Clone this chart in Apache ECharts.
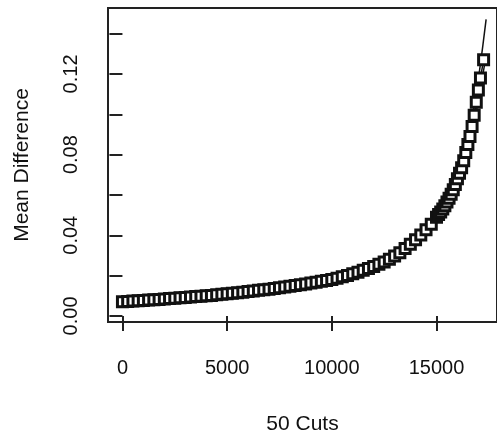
<!DOCTYPE html>
<html>
<head>
<meta charset="utf-8">
<script src="https://cdn.jsdelivr.net/npm/echarts@6/dist/echarts.min.js"></script>
<style>
  html, body { margin: 0; padding: 0; background: #fff; }
  #chart { width: 497px; height: 441px; }
</style>
</head>
<body>
<div id="chart"></div>
<script>
// cut positions and mean differences
var cutX = [0, 250, 500, 750, 1000, 1250, 1500, 1750, 2000, 2250, 2500, 2750, 3000, 3250, 3500,
  3750, 4000, 4250, 4500, 4750, 5000, 5250, 5500, 5750, 6000, 6250, 6500, 6750, 7000, 7250,
  7500, 7750, 8000, 8250, 8500, 8750, 9000, 9250, 9500, 9750, 10000, 10250, 10500, 10750,
  11000, 11250, 11500, 11750, 12000, 12250, 12500, 12750, 13000, 13250, 13500, 13750, 14000,
  14250, 14500, 14750, 15000, 15100, 15200, 15300, 15400, 15500, 15600, 15700, 15800, 15900,
  16000, 16100, 16200, 16300, 16400, 16500, 16600, 16700, 16800, 16900, 17000, 17100, 17250]
var meanY = [0.0071, 0.0072, 0.0074, 0.0075, 0.0077, 0.0079, 0.0080, 0.0082, 0.0084, 0.0086,
  0.0088, 0.0090, 0.0092, 0.0094, 0.0096, 0.0098, 0.0100, 0.0102, 0.0105, 0.0107, 0.0110,
  0.0112, 0.0115, 0.0118, 0.0121, 0.0124, 0.0127, 0.0130, 0.0133, 0.0136, 0.0140, 0.0143,
  0.0147, 0.0151, 0.0155, 0.0159, 0.0163, 0.0167, 0.0172, 0.0176, 0.0181, 0.0187, 0.0194,
  0.0201, 0.0209, 0.0217, 0.0226, 0.0235, 0.0245, 0.0256, 0.0268, 0.0281, 0.0297, 0.0314,
  0.0334, 0.0356, 0.0378, 0.0402, 0.0428, 0.0455, 0.0490, 0.0503, 0.0516, 0.0530, 0.0547,
  0.0565, 0.0584, 0.0604, 0.0626, 0.0652, 0.0680, 0.0707, 0.0735, 0.0770, 0.0810, 0.0850,
  0.0890, 0.0940, 0.0995, 0.1060, 0.1120, 0.1180, 0.1270]

// upper / lower curves of the band
var bandX = [0, 3000, 6000, 9000, 12000, 13000, 14000, 15000, 15500, 16000, 16400, 16800, 17100, 17370]
var upperY = [0.0076, 0.0096, 0.0126, 0.0167, 0.0252, 0.0305, 0.0395, 0.0520, 0.0600, 0.0715, 0.0840, 0.1040, 0.1250, 0.1471]
var lowerY = [0.0066, 0.0089, 0.0118, 0.0159, 0.0238, 0.0288, 0.0368, 0.0482, 0.0553, 0.0658, 0.0778, 0.0958, 0.1130, 0.1290]

var xTicks = [0, 5000, 10000, 15000]
var yTicks = [0, 0.02, 0.04, 0.06, 0.08, 0.10, 0.12, 0.14]
var yLabels = [0, 0.04, 0.08, 0.12]

function pairs(xs, ys) {
  return xs.map(function (x, i) { return [x, ys[i]] })
}

var font = 'Liberation Sans'
var chart = echarts.init(document.getElementById('chart'))
var lineStyle = { color: '#111', width: 1.5 }

chart.setOption({
  animation: false,
  grid: {
    left: 108, top: 8, right: -3, bottom: 119,
    show: true, borderColor: '#222', borderWidth: 2, backgroundColor: '#fff'
  },
  xAxis: {
    type: 'value', min: -690, max: 17890,
    name: '50 Cuts', nameLocation: 'middle', nameGap: 92,
    nameTextStyle: { fontFamily: font, fontSize: 21, color: '#111' },
    axisLine: { show: false },
    splitLine: { show: false },
    axisTick: { show: true, length: 15, customValues: xTicks, lineStyle: { color: '#222', width: 2 } },
    axisLabel: {
      customValues: xTicks, margin: 36, fontFamily: font, fontSize: 20, color: '#111',
      formatter: function (v) { return String(v) }
    }
  },
  yAxis: {
    type: 'value', min: -0.003, max: 0.1527,
    name: 'Mean Difference', nameLocation: 'middle', nameGap: 75,
    nameTextStyle: { fontFamily: font, fontSize: 21, color: '#111' },
    axisLine: { show: false },
    splitLine: { show: false },
    axisTick: { show: true, length: 13, customValues: yTicks, lineStyle: { color: '#222', width: 2 } },
    axisLabel: {
      customValues: yLabels, rotate: 90, margin: 27,
      fontFamily: font, fontSize: 20, color: '#111',
      formatter: function (v) { return v.toFixed(2) }
    }
  },
  series: [
    { type: 'line', data: pairs(bandX, upperY), showSymbol: false, smooth: 0.3, lineStyle: lineStyle, z: 2 },
    { type: 'line', data: pairs(bandX, lowerY), showSymbol: false, smooth: 0.3, lineStyle: lineStyle, z: 2 },
    { type: 'line', data: pairs(cutX, meanY), showSymbol: false, lineStyle: lineStyle, z: 2 },
    {
      type: 'scatter', data: pairs(cutX, meanY), symbol: 'rect', symbolSize: 10, z: 3,
      itemStyle: { color: '#fff', borderColor: '#111', borderWidth: 3, opacity: 1 }
    }
  ]
})
</script>
</body>
</html>
